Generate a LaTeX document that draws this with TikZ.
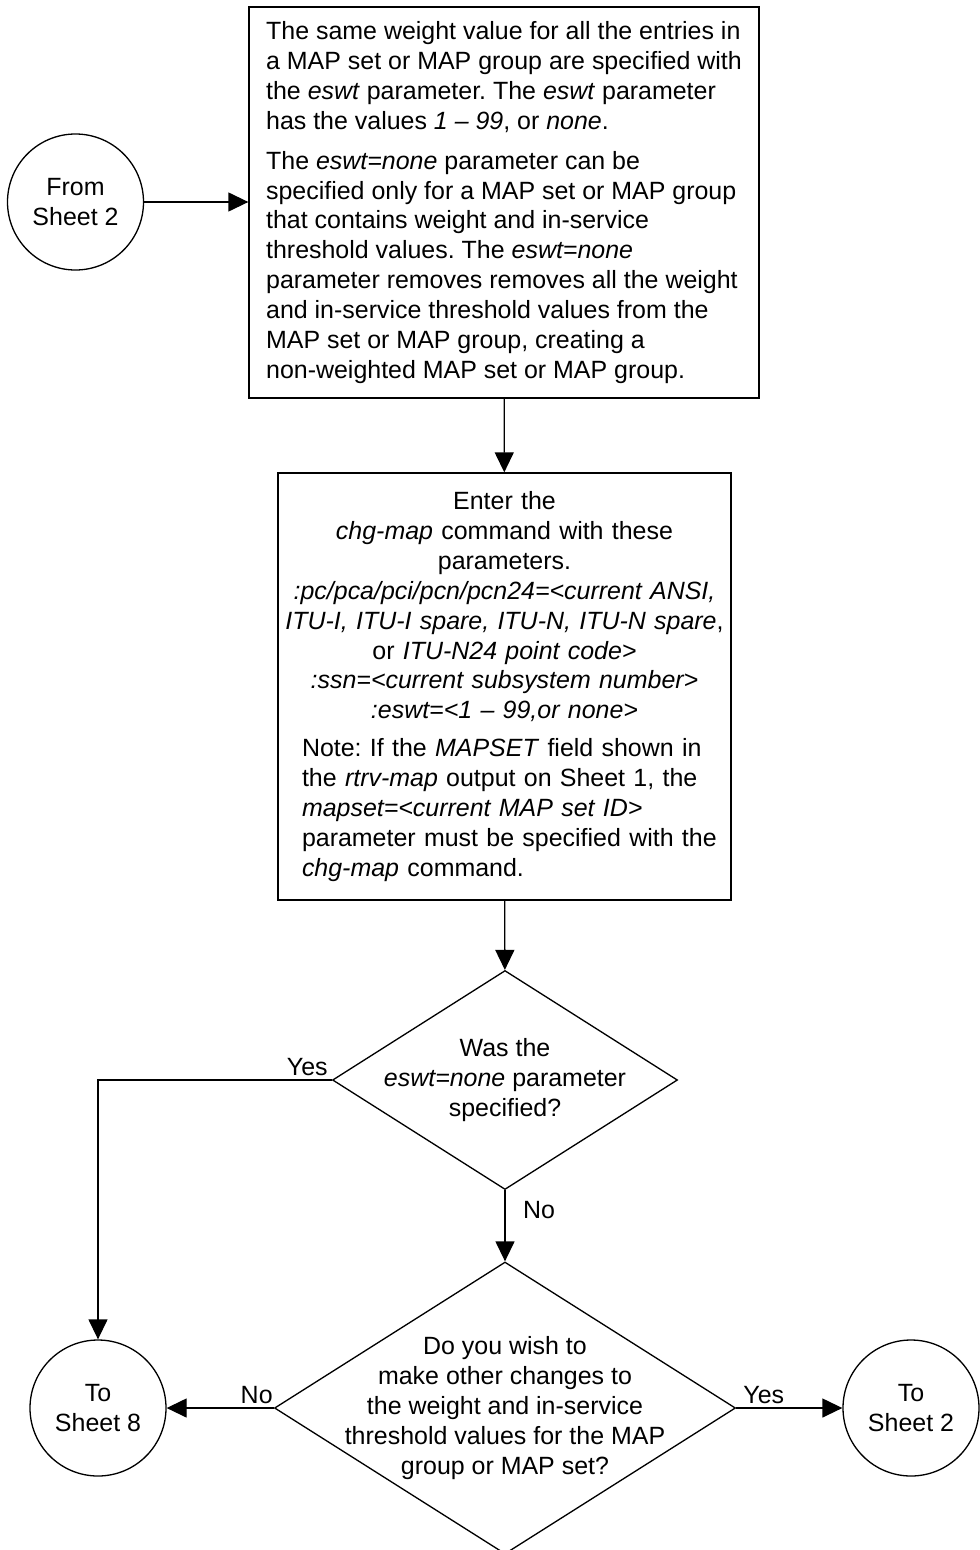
\documentclass[tikz,border=0pt]{standalone}
\usepackage{fontspec}
\setmainfont{Liberation Sans}
\frenchspacing
\usetikzlibrary{arrows.meta,positioning,shapes.geometric}

\begin{document}
\begin{tikzpicture}[
  txt/.style={font=\fontsize{14.2pt}{17pt}\selectfont},
  sheet/.style={txt, circle, draw, line width=0.75pt, minimum size=2.72cm, align=center, inner sep=0pt},
  stepbox/.style={txt, draw, line width=0.75pt, inner sep=0pt},
  decision/.style={diamond, draw, line width=0.75pt, inner sep=0pt},
  qtext/.style={txt, align=center, inner sep=0pt},
  arr/.style={-{Triangle[length=0.4cm,width=0.38cm]}, line width=0.75pt},
  lbl/.style={txt, inner sep=2pt}
]
\useasboundingbox (0,0) rectangle (19.6,-31);

\node[sheet] (from2) at (1.51,-4.04) {From\\Sheet 2};
\node[stepbox, minimum width=10.2cm, minimum height=7.82cm, align=left] (eswt) at (10.08,-4.05) {%
  The same weight value for all the entries in\\
  a MAP set or MAP group are specified with\\
  the \textit{eswt} parameter. The \textit{eswt} parameter\\
  has the values \textit{1 – 99}, or \textit{none}.\\[0.2cm]
  The \textit{eswt=none} parameter can be\\
  specified only for a MAP set or MAP group\\
  that contains weight and in-service\\
  threshold values. The \textit{eswt=none}\\
  parameter removes removes all the weight\\
  and in-service threshold values from the\\
  MAP set or MAP group, creating a\\
  non-weighted MAP set or MAP group.};

\node[stepbox, minimum width=9.06cm, minimum height=8.54cm, text width=9.0cm, align=left] (chg) at (10.09,-13.73) {%
  {\centering Enter the\\
  \textit{chg-map} command with these\\
  parameters.\\
  \textit{:pc/pca/pci/pcn/pcn24=<current ANSI,}\\
  \textit{ITU-I, ITU-I spare, ITU-N, ITU-N spare},\\
  or \textit{ITU-N24 point code>}\\
  \textit{:ssn=<current subsystem number>}\\
  \textit{:eswt=<1 – 99,or none>}\par}
  \vspace{0.16cm}
  {\leftskip=0.45cm Note: If the \textit{MAPSET} field shown in\\
  the \textit{rtrv-map} output on Sheet 1, the\\
  \textit{mapset=<current MAP set ID>}\\
  parameter must be specified with the\\
  \textit{chg-map} command.\par}};

% decisions
\node[decision, minimum width=6.9cm, minimum height=4.38cm] (q1) at (10.1,-21.6) {};
\node[qtext] (q1txt) at (q1) {Was the\\\textit{eswt=none} parameter\\specified?};
\node[decision, minimum width=9.22cm, minimum height=5.84cm] (q2) at (10.1,-28.16) {};
\node[qtext] (q2txt) at (q2) {Do you wish to\\make other changes to\\the weight and in-service\\threshold values for the MAP\\group or MAP set?};

\node[sheet] (to8) at (1.96,-28.16) {To\\Sheet 8};
\node[sheet] (to2) at (18.22,-28.16) {To\\Sheet 2};

\draw[arr] (from2) -- (eswt.west |- from2);
\draw[arr] (eswt) -- (chg);
\draw[arr] (chg) -- (q1);
\draw[arr] (q1.west) node[lbl, above left] {Yes} -| (to8.north);
\draw[arr] (q1.south) -- node[lbl, right, xshift=0.28cm, pos=0.28] {No} (q2.north);
\draw[arr] (q2.west) -- node[lbl, above, pos=0.16] {No} (to8.east);
\draw[arr] (q2.east) -- node[lbl, above, pos=0.26] {Yes} (to2.west);
\end{tikzpicture}
\end{document}
